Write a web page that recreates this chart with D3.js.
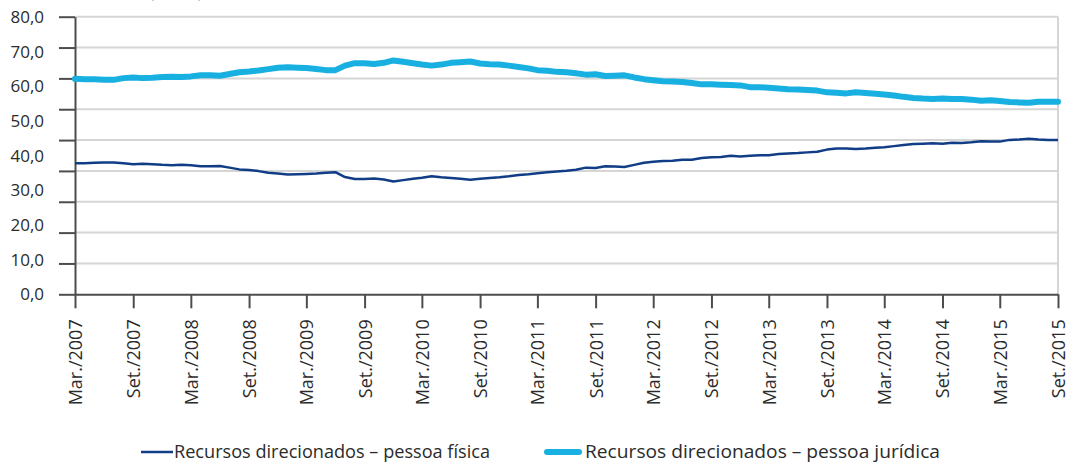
<!DOCTYPE html>
<html>
<head>
<meta charset="utf-8">
<script src="https://cdn.jsdelivr.net/npm/d3@7"></script>
<style>
    body { margin: 0; background: #fff; }
    svg { display: block; font-family: "Open Sans", sans-serif; }
</style>
</head>
<body>
<svg id="chart" width="1066" height="463"></svg>
<script>
'use strict';

// monthly series, Mar/2007 .. Set/2015 (%)
let seriesNames = ["Recursos direcionados – pessoa física", "Recursos direcionados – pessoa jurídica"];

let pessoaFisica = [
    37.8, 37.8, 37.9, 38.0, 38.0, 37.8, 37.5, 37.6, 37.5, 37.3, 37.2, 37.3,
    37.2, 36.9, 36.9, 37.0, 36.5, 36.0, 35.8, 35.5, 35.0, 34.8, 34.5, 34.6,
    34.7, 34.8, 35.0, 35.2, 33.8, 33.2, 33.2, 33.4, 33.1, 32.5, 32.9, 33.3,
    33.6, 34.0, 33.7, 33.5, 33.3, 33.0, 33.3, 33.5, 33.7, 34.0, 34.4, 34.6,
    34.9, 35.2, 35.4, 35.6, 35.9, 36.5, 36.4, 36.9, 36.8, 36.7, 37.3, 37.9,
    38.2, 38.4, 38.5, 38.8, 38.8, 39.3, 39.5, 39.6, 39.9, 39.7, 39.9, 40.1,
    40.1, 40.4, 40.6, 40.7, 40.9, 41.1, 41.7, 42.0, 42.0, 41.9, 42.0, 42.2,
    42.4, 42.7, 43.0, 43.3, 43.4, 43.5, 43.4, 43.7, 43.6, 43.8, 44.1, 44.0,
    44.0, 44.5, 44.6, 44.8, 44.6, 44.5, 44.5
];

let pessoaJuridica = [
    62.1, 62.0, 62.0, 61.8, 61.8, 62.3, 62.5, 62.3, 62.4, 62.6, 62.7, 62.6,
    62.8, 63.1, 63.1, 63.0, 63.5, 64.0, 64.2, 64.5, 64.9, 65.3, 65.4, 65.3,
    65.2, 64.9, 64.6, 64.6, 65.9, 66.6, 66.6, 66.4, 66.7, 67.4, 67.0, 66.6,
    66.2, 65.9, 66.2, 66.7, 66.9, 67.1, 66.5, 66.3, 66.2, 65.9, 65.5, 65.1,
    64.6, 64.4, 64.1, 64.0, 63.7, 63.3, 63.4, 62.9, 63.0, 63.1, 62.5, 62.0,
    61.7, 61.4, 61.3, 61.2, 60.9, 60.5, 60.5, 60.4, 60.3, 60.2, 59.7, 59.7,
    59.5, 59.3, 59.1, 59.0, 58.9, 58.7, 58.2, 58.1, 57.9, 58.2, 58.0, 57.8,
    57.6, 57.3, 56.9, 56.6, 56.4, 56.3, 56.4, 56.3, 56.3, 56.1, 55.8, 55.9,
    55.7, 55.4, 55.3, 55.2, 55.5, 55.5, 55.5
];

let tickLabels = [
    "Mar./2007", "Set./2007", "Mar./2008", "Set./2008", "Mar./2009", "Set./2009",
    "Mar./2010", "Set./2010", "Mar./2011", "Set./2011", "Mar./2012", "Set./2012",
    "Mar./2013", "Set./2013", "Mar./2014", "Set./2014", "Mar./2015", "Set./2015"
];

let yLabels = [0, 10, 20, 30, 40, 50, 60, 70, 80];

let colors = ["#113c86", "#18afe1"];

let startDate = new Date(2007, 2, 1);
let endDate = new Date(2015, 8, 1);
let months = d3.timeMonth.range(startDate, d3.timeMonth.offset(endDate, 1));
let tickDates = d3.timeMonth.range(startDate, d3.timeMonth.offset(endDate, 1), 6);

let fmt = d3.formatLocale({decimal: ",", thousands: ".", grouping: [3], currency: ["R$", ""]}).format(".1f");

let svg = d3.select("#chart"),
    margin = {top: 16.7, bottom: 294.3, left: 75, right: 1058};

let x = d3.scaleTime()
    .domain([startDate, endDate])
    .range([margin.left, margin.right]);

let y = d3.scaleLinear()
    .domain([0, 80])
    .range([margin.bottom, margin.top]);

// the original chart draws 10 grid lines but labels every 10 points
let gridValues = d3.range(10).map(i => i * 80 / 9);

// unit note, cut off at the top edge as in the source
svg.append("text")
    .attr("x", 176)
    .attr("y", -2)
    .attr("text-anchor", "middle")
    .style("font-size", "17px")
    .style("fill", "#666")
    .text("(Em %)");

// grid lines
svg.append("g")
    .selectAll("line")
    .data(gridValues.slice(1))
    .enter().append("line")
    .attr("x1", margin.left)
    .attr("x2", margin.right)
    .attr("y1", d => y(d))
    .attr("y2", d => y(d))
    .style("stroke", "#d5d5d5")
    .style("stroke-width", 2);

svg.append("line")
    .attr("x1", margin.right)
    .attr("x2", margin.right)
    .attr("y1", margin.top)
    .attr("y2", margin.bottom)
    .style("stroke", "#d5d5d5")
    .style("stroke-width", 2);

// y axis
let yAxis = svg.append("g")
    .attr("class", "y-axis")
    .attr("transform", "translate(" + margin.left + ",0)")
    .call(d3.axisLeft(y).tickValues(gridValues).tickSize(16).tickSizeOuter(0).tickFormat(""));
yAxis.selectAll("path, line").style("stroke", "#4d4d4d").style("stroke-width", 2);

svg.append("g")
    .selectAll("text")
    .data(yLabels)
    .enter().append("text")
    .attr("x", 44)
    .attr("y", d => y(d))
    .attr("dy", "0.36em")
    .attr("text-anchor", "end")
    .style("font-size", "17px")
    .style("fill", "#2b2b2b")
    .text(d => fmt(d));

// x axis
let xAxis = svg.append("g")
    .attr("class", "x-axis")
    .attr("transform", "translate(0," + margin.bottom + ")")
    .call(d3.axisBottom(x).tickValues(tickDates).tickSize(14).tickSizeOuter(0)
        .tickFormat((d, i) => tickLabels[i]));
xAxis.selectAll("path, line").style("stroke", "#4d4d4d").style("stroke-width", 2);
xAxis.selectAll("text")
    .attr("transform", "rotate(-90)")
    .attr("x", -25)
    .attr("y", 0)
    .attr("dy", "0.36em")
    .attr("text-anchor", "end")
    .style("font-size", "18px")
    .style("font-family", "Open Sans")
    .style("fill", "#2b2b2b");

// lines
let line = d3.line()
    .x((d, i) => x(months[i]))
    .y(d => y(d));

svg.append("path")
    .attr("d", line(pessoaJuridica))
    .style("fill", "none")
    .style("stroke", colors[1])
    .style("stroke-width", 6)
    .style("stroke-linejoin", "round")
    .style("stroke-linecap", "round");

svg.append("path")
    .attr("d", line(pessoaFisica))
    .style("fill", "none")
    .style("stroke", colors[0])
    .style("stroke-width", 2.5)
    .style("stroke-linejoin", "round");

// legend
let legendItems = [
    {name: seriesNames[0], color: colors[0], width: 2.5, x: 141, len: 316},
    {name: seriesNames[1], color: colors[1], width: 6, x: 547, len: 355}
];
let lg = svg.append("g").selectAll("g")
    .data(legendItems)
    .enter().append("g")
    .attr("transform", d => "translate(" + d.x + ",452)");
lg.append("line")
    .attr("x1", 0)
    .attr("x2", 32)
    .style("stroke", d => d.color)
    .style("stroke-width", d => d.width)
    .style("stroke-linecap", d => d.width > 3 ? "round" : "butt");
lg.append("text")
    .attr("x", d => d.width > 3 ? 38 : 33)
    .attr("dy", "0.35em")
    .attr("textLength", d => d.len)
    .attr("lengthAdjust", "spacingAndGlyphs")
    .style("font-size", "18px")
    .style("fill", "#2b2b2b")
    .text(d => d.name);
</script>
</body>
</html>
